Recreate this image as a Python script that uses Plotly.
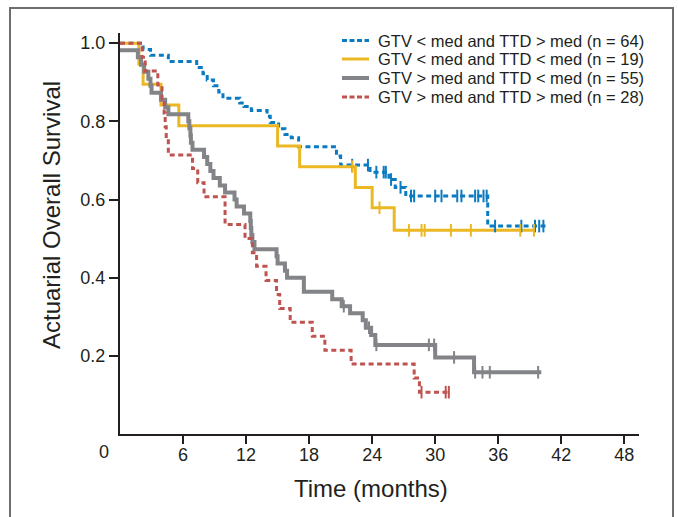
import numpy as np
import plotly.graph_objects as go

# ---- data ----
names = ["GTV < med and TTD > med (n = 64)",
         "GTV < med and TTD < med (n = 19)",
         "GTV > med and TTD < med (n = 55)",
         "GTV > med and TTD > med (n = 28)"]

blue_t = [0, 2.2, 2.9, 4.6, 7.3, 7.9, 8.3, 8.9, 9.4, 9.8, 11.4, 11.8, 12.5, 14.0, 14.3, 15.1, 15.7, 16.3, 17.0, 20.6, 21.0, 23.8, 25.6, 26.2, 27.2, 35.0]
blue_s = [1.0, 0.984, 0.969, 0.953, 0.938, 0.922, 0.906, 0.891, 0.875, 0.859, 0.847, 0.838, 0.828, 0.813, 0.797, 0.781, 0.766, 0.758, 0.735, 0.711, 0.688, 0.670, 0.651, 0.631, 0.609, 0.532]
blue_end = 40.5
blue_c = [22.1, 23.6, 24.4, 25.1, 25.3, 25.8, 26.7, 27.7, 28.0, 30.0, 30.6, 32.1, 32.5, 33.8, 34.1, 34.6, 34.9, 35.7, 38.2, 39.5, 39.9, 40.3]

yel_t = [0, 1.8, 2.2, 3.9, 5.6, 15.0, 17.1, 22.4, 24.0, 26.1]
yel_s = [1.0, 0.947, 0.895, 0.842, 0.789, 0.737, 0.684, 0.631, 0.579, 0.521]
yel_end = 39.4
yel_c = [22.1, 24.7, 27.5, 28.7, 29.0, 31.5, 33.4, 38.1, 39.4]

gray_t = [0, 1.7, 2.0, 2.3, 2.7, 2.9, 3.0, 3.9, 4.3, 4.6, 6.5, 6.6, 6.7, 6.75, 6.9, 8.0, 8.3, 8.6, 8.9, 9.5, 10.0, 10.9, 11.1, 11.8, 12.4, 12.45, 12.5, 12.6, 12.8, 14.9, 15.0, 15.7, 15.9, 17.5, 20.2, 21.1, 21.9, 23.1, 23.4, 23.9, 24.3, 30.0, 33.7]
gray_s = [0.982, 0.964, 0.945, 0.927, 0.909, 0.891, 0.873, 0.855, 0.836, 0.818, 0.800, 0.782, 0.764, 0.745, 0.727, 0.709, 0.691, 0.673, 0.655, 0.636, 0.618, 0.600, 0.582, 0.564, 0.545, 0.527, 0.509, 0.491, 0.473, 0.455, 0.436, 0.418, 0.400, 0.364, 0.345, 0.327, 0.309, 0.291, 0.272, 0.253, 0.228, 0.196, 0.158]
gray_end = 40.1
gray_c = [21.3, 23.7, 24.4, 29.4, 29.9, 31.8, 33.8, 34.5, 35.2, 39.8]

red_t = [0, 2.1, 2.4, 3.6, 4.0, 4.2, 4.3, 4.4, 4.6, 6.9, 7.4, 8.0, 10.0, 11.9, 12.6, 13.0, 13.9, 14.9, 15.2, 16.2, 18.3, 19.5, 22.0, 28.0, 28.5]
red_s = [1.0, 0.964, 0.929, 0.893, 0.857, 0.821, 0.786, 0.750, 0.714, 0.679, 0.643, 0.607, 0.536, 0.500, 0.464, 0.429, 0.393, 0.357, 0.321, 0.286, 0.250, 0.214, 0.179, 0.143, 0.107]
red_end = 31.5
red_c = [28.7, 31.0, 31.3]

x_ticks = [6, 12, 18, 24, 30, 36, 42, 48]
y_ticks = [0.2, 0.4, 0.6, 0.8, 1.0]
y_ticklabels = ["0.2", "0.4", "0.6", "0.8", "1.0"]

# ---- styles ----
series = [
    (blue_t, blue_s, blue_end, blue_c, "#0b7bc1", 3, "5px,3.5px"),
    (yel_t, yel_s, yel_end, yel_c, "#ebb824", 3, "solid"),
    (gray_t, gray_s, gray_end, gray_c, "#838488", 4, "solid"),
    (red_t, red_s, red_end, red_c, "#bf5350", 3, "5px,3.5px"),
]

FONT = "Liberation Sans, Arial, sans-serif"
TXT = "#231f20"

# plot area in pixels
L, R, T, B = 120, 39, 33, 83
PW, PH = 678 - L - R, 517 - T - B


def px(x):
    return (x - L) / PW


def py(y):
    return (517 - B - y) / PH


fig = go.Figure()
for name, (t, s, end, c, col, w, dash) in zip(names, series):
    xs = list(t) + [end]
    ys = list(s) + [s[-1]]
    fig.add_trace(go.Scatter(x=xs, y=ys, mode="lines", name=name,
                             line=dict(color=col, width=w, dash=dash, shape="hv"),
                             showlegend=False, hoverinfo="skip"))
for name, (t, s, end, c, col, w, dash) in zip(names, series):
    idx = np.searchsorted(np.array(t), np.array(c), side="right") - 1
    cy = [s[i] for i in idx]
    fig.add_trace(go.Scatter(x=c, y=cy, mode="markers", showlegend=False,
                             marker=dict(symbol="line-ns", size=9,
                                         line=dict(color=col, width=2)),
                             hoverinfo="skip"))

fig.update_layout(
    width=678, height=517,
    margin=dict(l=L, r=R, t=T, b=B),
    paper_bgcolor="white", plot_bgcolor="white",
    font=dict(family=FONT, color=TXT, size=18),
    showlegend=False,
    xaxis=dict(range=[0, 49.4], tickvals=x_ticks, ticks="outside", ticklen=8,
               tickwidth=2, tickcolor=TXT, showline=True, linecolor=TXT,
               linewidth=2, showgrid=False, zeroline=False,
               tickfont=dict(size=18), ticklabelstandoff=-5),
    yaxis=dict(range=[0, 1.026], tickvals=y_ticks, ticktext=y_ticklabels,
               ticks="outside", ticklen=9, tickwidth=2, tickcolor=TXT,
               showline=True, linecolor=TXT, linewidth=2, showgrid=False,
               zeroline=False, tickfont=dict(size=18)),
)

# axis titles
fig.add_annotation(text="Time (months)", xref="paper", yref="paper",
                   x=px(371), y=py(488), xanchor="center", yanchor="middle",
                   showarrow=False, font=dict(size=24, color=TXT))
fig.add_annotation(text="Actuarial Overall Survival", xref="paper", yref="paper",
                   x=px(51), y=py(215), xanchor="center", yanchor="middle",
                   textangle=-90, showarrow=False, font=dict(size=24, color=TXT))
fig.add_annotation(text="0", xref="paper", yref="paper", x=px(104), y=py(452),
                   xanchor="center", yanchor="middle", showarrow=False,
                   font=dict(size=18, color=TXT))

# legend (drawn manually to match the compact row spacing)
leg_rows = [40.5, 59, 78, 97]
for name, (t, s, end, c, col, w, dash), yrow in zip(names, series, leg_rows):
    d = "5px,2.5px" if dash != "solid" else "solid"
    fig.add_shape(type="line", xref="paper", yref="paper",
                  x0=px(342), x1=px(369), y0=py(yrow), y1=py(yrow),
                  line=dict(color=col, width=w, dash=d))
    fig.add_annotation(text=name, xref="paper", yref="paper",
                       x=px(376), y=py(yrow), xanchor="left", yanchor="middle",
                       showarrow=False, font=dict(size=16.5, color=TXT))

fig.add_shape(type="rect", xref="paper", yref="paper",
              x0=px(10), x1=px(673), y0=py(560), y1=py(8),
              line=dict(color="#6d6e71", width=2), fillcolor="rgba(0,0,0,0)",
              layer="below")

fig.write_html("out.html")
